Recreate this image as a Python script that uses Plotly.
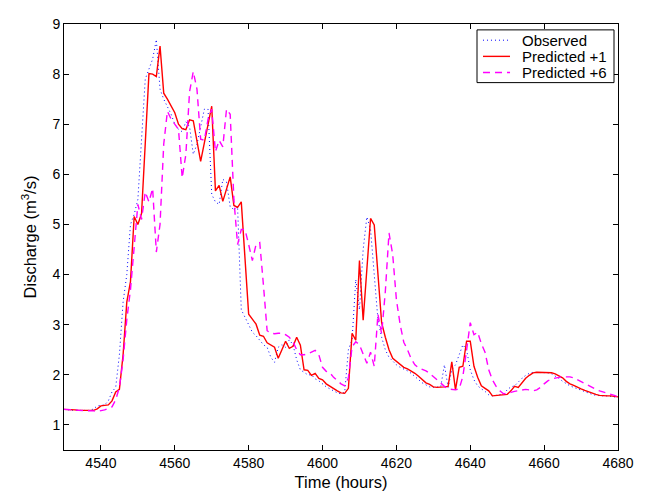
import plotly.graph_objects as go

hours = list(range(4530, 4681))

observed = [
    1.31, 1.30, 1.30, 1.29, 1.29, 1.29, 1.29, 1.29, 1.32, 1.38,  # 4530-4539
    1.39, 1.40, 1.48, 1.66, 1.75, 2.40, 3.45, 4.00, 5.00, 5.20,  # 4540-4549
    5.50, 6.80, 7.90, 8.10, 8.30, 8.69, 7.70, 7.50, 7.36, 7.20,  # 4550-4559
    7.00, 6.90, 6.85, 7.05, 6.95, 6.40, 6.60, 6.95, 7.30, 7.30,  # 4560-4569
    5.60, 5.45, 5.40, 5.90, 5.85, 5.35, 5.30, 5.35, 3.30, 3.15,  # 4570-4579
    3.00, 2.85, 2.78, 2.68, 2.60, 2.55, 2.35, 2.25, 2.55, 2.60,  # 4580-4589
    2.55, 2.70, 2.60, 2.30, 2.10, 2.05, 2.00, 2.00, 1.92, 1.88,  # 4590-4599
    1.82, 1.76, 1.72, 1.68, 1.64, 1.62, 1.65, 2.50, 2.70, 3.90,  # 4600-4609
    3.30, 4.50, 5.15, 4.90, 4.00, 3.10, 2.75, 2.50, 2.35, 2.27,  # 4610-4619
    2.20, 2.15, 2.12, 2.08, 2.03, 1.97, 1.90, 1.84, 1.80, 1.76,  # 4620-4629
    1.75, 1.75, 1.76, 2.20, 1.75, 2.10, 2.20, 2.40, 2.60, 2.50,  # 4630-4639
    2.10, 1.90, 1.78, 1.72, 1.67, 1.60, 1.58, 1.59, 1.60, 1.62,  # 4640-4649
    1.70, 1.76, 1.78, 1.86, 1.93, 1.99, 2.03, 2.05, 2.05, 2.05,  # 4650-4659
    2.05, 2.04, 2.02, 1.98, 1.93, 1.87, 1.82, 1.78, 1.75, 1.72,  # 4660-4669
    1.69, 1.66, 1.63, 1.61, 1.59, 1.58, 1.58, 1.58, 1.57, 1.56,  # 4670-4679
    1.55,                                                        # 4680
]

predicted_1 = [
    1.31, 1.31, 1.30, 1.30, 1.29, 1.29, 1.29, 1.29, 1.29, 1.32,  # 4530-4539
    1.38, 1.39, 1.40, 1.48, 1.66, 1.71, 2.40, 3.45, 3.86, 5.16,  # 4540-4549
    5.00, 5.22, 6.62, 8.01, 8.00, 7.95, 8.56, 7.62, 7.50, 7.36,  # 4550-4559
    7.23, 7.00, 6.91, 6.89, 7.09, 7.07, 6.65, 6.26, 6.63, 7.00,  # 4560-4569
    7.36, 5.67, 5.78, 5.46, 5.70, 5.95, 5.38, 5.34, 5.45, 4.33,  # 4570-4579
    3.21, 3.11, 3.01, 2.79, 2.77, 2.64, 2.60, 2.55, 2.33, 2.50,  # 4580-4589
    2.67, 2.53, 2.57, 2.75, 2.59, 2.10, 2.09, 1.99, 2.03, 1.93,  # 4590-4599
    1.90, 1.82, 1.77, 1.72, 1.68, 1.64, 1.63, 1.73, 2.83, 2.69,  # 4600-4609
    4.28, 3.09, 4.10, 5.12, 4.99, 4.00, 3.04, 2.75, 2.50, 2.33,  # 4610-4619
    2.27, 2.20, 2.15, 2.12, 2.08, 2.03, 1.97, 1.90, 1.84, 1.81,  # 4620-4629
    1.76, 1.75, 1.75, 1.76, 1.77, 2.26, 1.70, 2.15, 2.17, 2.67,  # 4630-4639
    2.67, 2.17, 1.95, 1.78, 1.73, 1.68, 1.58, 1.59, 1.60, 1.60,  # 4640-4649
    1.61, 1.68, 1.77, 1.75, 1.85, 1.93, 1.99, 2.04, 2.05, 2.05,  # 4650-4659
    2.05, 2.05, 2.04, 2.02, 1.98, 1.94, 1.87, 1.82, 1.79, 1.75,  # 4660-4669
    1.72, 1.69, 1.66, 1.63, 1.61, 1.59, 1.58, 1.58, 1.58, 1.57,  # 4670-4679
    1.56,                                                        # 4680
]

predicted_6 = [
    1.31, 1.31, 1.30, 1.30, 1.29, 1.29, 1.29, 1.29, 1.28, 1.27,  # 4530-4539
    1.28, 1.30, 1.33, 1.36, 1.50, 1.75, 2.30, 3.10, 3.70, 4.60,  # 4540-4549
    5.40, 5.10, 5.65, 5.45, 5.72, 4.45, 5.00, 6.60, 7.26, 7.10,  # 4550-4559
    7.00, 6.90, 5.93, 6.40, 7.65, 8.05, 7.70, 6.70, 6.68, 7.10,  # 4560-4569
    7.30, 6.45, 6.68, 6.55, 7.30, 7.20, 5.50, 4.60, 4.90, 4.90,  # 4570-4579
    4.60, 4.28, 4.60, 4.64, 3.79, 2.88, 2.83, 2.82, 2.83, 2.83,  # 4580-4589
    2.80, 2.75, 2.66, 2.50, 2.40, 2.40, 2.42, 2.46, 2.49, 2.40,  # 4590-4599
    2.15, 2.07, 2.04, 1.95, 1.88, 1.82, 1.78, 1.94, 2.56, 2.66,  # 4600-4609
    2.60, 2.40, 2.23, 2.45, 2.17, 3.21, 2.82, 3.66, 4.83, 4.40,  # 4610-4619
    3.50, 3.01, 2.65, 2.50, 2.32, 2.20, 2.14, 2.11, 2.08, 2.03,  # 4620-4629
    1.96, 1.89, 1.82, 1.77, 1.72, 1.71, 1.70, 1.72, 1.97, 2.49,  # 4630-4639
    3.04, 2.80, 2.85, 2.62, 2.45, 2.10, 1.90, 1.77, 1.68, 1.62,  # 4640-4649
    1.63, 1.65, 1.67, 1.68, 1.70, 1.71, 1.70, 1.68, 1.70, 1.75,  # 4650-4659
    1.82, 1.88, 1.92, 1.94, 1.95, 1.96, 1.96, 1.96, 1.94, 1.90,  # 4660-4669
    1.86, 1.82, 1.78, 1.74, 1.71, 1.68, 1.66, 1.64, 1.62, 1.59,  # 4670-4679
    1.56,                                                        # 4680
]

series_names = ["Observed", "Predicted +1", "Predicted +6"]
x_ticks = [4540, 4560, 4580, 4600, 4620, 4640, 4660, 4680]
y_ticks = [1, 2, 3, 4, 5, 6, 7, 8, 9]

FONT = "Liberation Sans, Arial, Helvetica, sans-serif"

styles = [
    dict(color="#0000ff", width=1, dash="1px,3px"),
    dict(color="#ff0000", width=1.4, dash="solid"),
    dict(color="#ff00ff", width=1.4, dash="7px,5px"),
]
data = [observed, predicted_1, predicted_6]

fig = go.Figure()
for name, ys, st in zip(series_names, data, styles):
    fig.add_trace(go.Scatter(x=hours, y=ys, mode="lines", name=name,
                             line=st, showlegend=False))

axis_common = dict(showgrid=False, zeroline=False, showline=True, linecolor="black",
                   linewidth=1, mirror="allticks", ticks="inside", ticklen=5,
                   tickcolor="black", tickfont=dict(size=14, color="black", family=FONT))

fig.update_xaxes(range=[4530, 4680], tickvals=x_ticks,
                 title=dict(text="Time (hours)", font=dict(size=16.5, color="black", family=FONT), standoff=6),
                 **axis_common)
fig.update_yaxes(range=[0.5, 9], tickvals=y_ticks,
                 title=dict(text="Discharge (m<sup>3</sup>/s)", font=dict(size=16.5, color="black", family=FONT), standoff=11),
                 **axis_common)

# Compact MATLAB-style legend box drawn in paper coordinates
box_x0, box_x1 = 0.7455, 0.9928
box_y0, box_y1 = 0.8624, 0.9862
row_y = [0.962, 0.924, 0.886]
sample_x0, sample_x1 = 0.7563, 0.8051
text_x = 0.8231

shapes = [dict(type="rect", xref="paper", yref="paper", x0=box_x0, x1=box_x1,
               y0=box_y0, y1=box_y1, line=dict(color="black", width=1),
               fillcolor="white", layer="above")]
annotations = []
for name, st, ry in zip(series_names, styles, row_y):
    shapes.append(dict(type="line", xref="paper", yref="paper", x0=sample_x0, x1=sample_x1,
                       y0=ry, y1=ry, line=dict(color=st["color"], width=st["width"], dash=st["dash"]),
                       layer="above"))
    annotations.append(dict(text=name, xref="paper", yref="paper", x=text_x, y=ry,
                            xanchor="left", yanchor="middle", showarrow=False,
                            font=dict(size=15, color="black", family=FONT)))

# The page body has an 8px default margin, so the figure is sized and
# margined to place the plot area where the reference has it.
fig.update_layout(
    width=640, height=488,
    margin=dict(l=56, r=30, t=8, b=44),
    paper_bgcolor="white", plot_bgcolor="white",
    font=dict(family=FONT, color="black"),
    shapes=shapes, annotations=annotations,
    showlegend=False,
)

fig.write_html("out.html")
